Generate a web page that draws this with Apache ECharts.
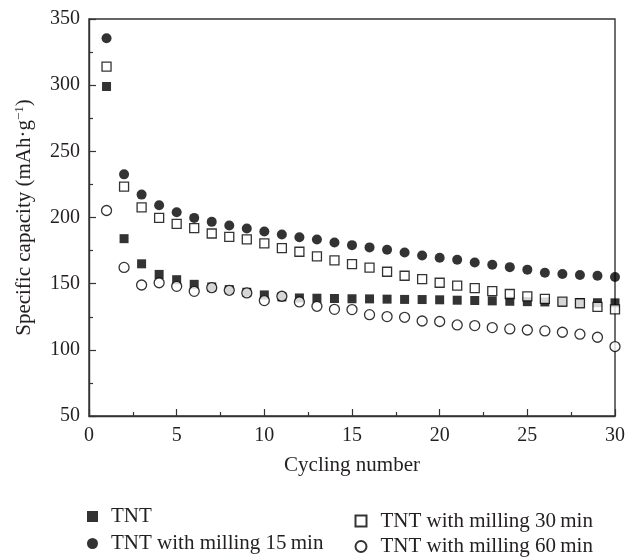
<!DOCTYPE html>
<html>
<head>
<meta charset="utf-8">
<script src="https://cdn.jsdelivr.net/npm/echarts@6/dist/echarts.min.js"></script>
<style>
  html, body { margin: 0; padding: 0; background: #fff; }
  #chart { width: 628px; height: 557px; }
</style>
</head>
<body>
<div id="chart"></div>
<script>
const cycles = [1, 2, 3, 4, 5, 6, 7, 8, 9, 10, 11, 12, 13, 14, 15,
  16, 17, 18, 19, 20, 21, 22, 23, 24, 25, 26, 27, 28, 29, 30]

const tnt = [299, 184, 165, 157, 153, 149.5, 147.5, 145.5, 143.5, 141.5,
  140, 139.2, 139, 138.8, 138.6, 138.5, 138.3, 138.1, 138, 137.8,
  137.5, 137.3, 137, 136.7, 136.4, 136.2, 136, 135.8, 135.6, 135.5]
const mill15 = [335.5, 232.6, 217.3, 209.2, 204, 199.7, 196.7, 193.9, 191.7, 189.4,
  187.2, 185.1, 183.4, 181.1, 179.1, 177.4, 175.6, 173.6, 171.3, 169.6,
  168.1, 166, 164.3, 162.5, 160.6, 158.3, 157.3, 156.5, 156, 155]
const mill30 = [314, 223.3, 207.7, 199.7, 195.2, 191.9, 187.9, 185.4, 183.4, 180.4,
  176.8, 174.1, 170.6, 167.6, 164.8, 162.1, 159, 156, 153.5, 150.7,
  148.5, 146.7, 144.4, 142.2, 140.4, 138.5, 136.4, 135.2, 132.4, 130.6]
const mill60 = [205.3, 162.3, 149, 150.7, 148, 144.2, 147, 145, 143, 137.2,
  140.5, 136.2, 132.9, 130.6, 130.4, 126.6, 125.1, 124.6, 121.8, 121.4,
  118.8, 118.3, 116.8, 115.8, 115, 114.3, 113.3, 111.8, 109.5, 102.5]

const names = ['TNT', 'TNT with milling 15\u2009min', 'TNT with milling 30\u2009min', 'TNT with milling 60\u2009min']

const font = 'Liberation Serif'
const ink = '#231f20'

const pairs = (ys) => cycles.map((c, i) => [c, ys[i]])

const mk = (name, ys, symbol, filled, size) => ({
  name,
  type: 'scatter',
  data: pairs(ys),
  symbol,
  symbolSize: size,
  itemStyle: filled
    ? { color: '#000' }
    : { color: '#fff', borderColor: '#000', borderWidth: 1.3 },
  emphasis: { disabled: true }
})

// one legend per entry, the reference staggers the two columns
const legendAt = (name, icon, left, top, pad) => ({
  orient: 'vertical',
  left,
  top,
  itemWidth: 11,
  itemHeight: 11,
  data: [{ name, icon }],
  textStyle: { color: ink, fontFamily: font, fontSize: 21, lineHeight: 21, padding: [0, 0, 0, pad] }
})

const chart = echarts.init(document.getElementById('chart'))

const axisCommon = {
  axisLine: { show: true, lineStyle: { color: '#333', width: 1.4 } },
  axisTick: { show: true, inside: true, length: 7, lineStyle: { color: '#333', width: 1.2 } },
  minorTick: { show: true, splitNumber: 2, length: 4, lineStyle: { color: '#333', width: 1.2 } },
  splitLine: { show: false },
  axisLabel: { color: ink, fontFamily: font, fontSize: 20 },
  nameTextStyle: { color: ink, fontFamily: font, fontSize: 21 }
}

chart.setOption({
  animation: false,
  backgroundColor: '#fff',
  grid: { left: 89, right: 10, top: 19, bottom: 141, show: true, borderColor: '#333', borderWidth: 1.4 },
  xAxis: {
    ...axisCommon,
    type: 'value',
    min: 0,
    max: 30,
    interval: 5,
    name: 'Cycling number',
    nameLocation: 'middle',
    nameGap: 39,
    axisLabel: { ...axisCommon.axisLabel, margin: 10 }
  },
  yAxis: {
    ...axisCommon,
    type: 'value',
    min: 50,
    max: 350,
    interval: 50,
    name: '{n|Specific capacity (mAh·g}{s|\u22121}{n|)}',
    nameLocation: 'middle',
    nameGap: 53,
    nameTextStyle: {
      color: ink,
      fontFamily: font,
      rich: {
        n: { fontFamily: font, fontSize: 21, color: ink },
        s: { fontFamily: font, fontSize: 13, color: ink, verticalAlign: 'top', padding: [0, 0, 10, 0] }
      }
    },
    axisLabel: { ...axisCommon.axisLabel, margin: 9 }
  },
  legend: [
    legendAt(names[0], 'rect', 82, 501, 8),
    legendAt(names[1], 'circle', 82, 528, 8),
    legendAt(names[2], 'rect', 349.5, 505.5, 9),
    legendAt(names[3], 'circle', 349.5, 531, 9)
  ],
  series: [
    mk(names[0], tnt, 'rect', true, 9),
    mk(names[1], mill15, 'circle', true, 10),
    mk(names[2], mill30, 'rect', false, 9),
    mk(names[3], mill60, 'circle', false, 10)
  ]
})
</script>
</body>
</html>
